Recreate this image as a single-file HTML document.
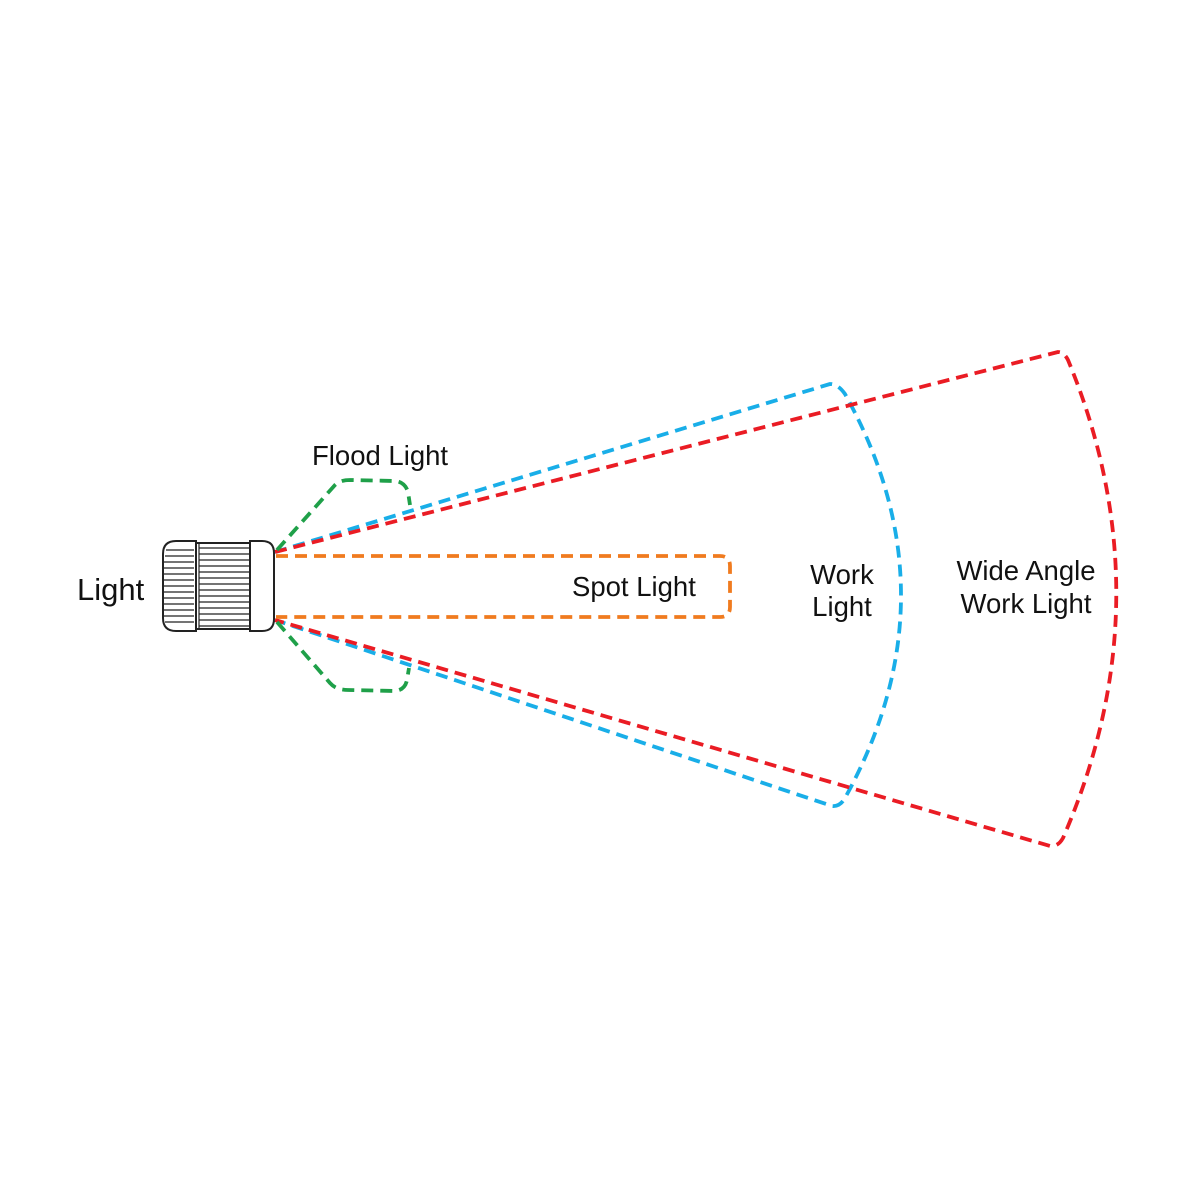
<!DOCTYPE html>
<html><head><style>body{margin:0;background:#fff}svg{display:block}text{font-family:"Liberation Sans",sans-serif;fill:#111}</style></head>
<body>
<svg width="1200" height="1200" viewBox="0 0 1200 1200">
<g fill="none" stroke-width="3.8" stroke-dasharray="12 7" stroke-linejoin="round">
<path d="M275 552 L830 384 Q838 384 845 394 Q957 595 845 798 Q840 807 832 806 L275 620" stroke="#19aee8"/>
<path d="M275 552 L1058 352 Q1064 352 1068 360 Q1167 599 1063 838 Q1058 847 1050 846 L275 620" stroke="#ea1c24"/>
<path d="M276 556 L720 556 Q730 556 730 566 L730 607 Q730 617 720 617 L276 617" stroke="#f07b1f"/>
<path d="M277 550 L335 485 Q340 480 350 480 L395 481 Q405 482 408 492 L410 505" stroke="#1fa049"/>
<path d="M277 622 L330 683 Q336 690 348 690 L395 691 Q405 690 407 680 L409 668" stroke="#1fa049"/>
</g>
<g stroke="#222" stroke-width="2" fill="#fff">
<path d="M176 541 L196 541 L196 631 L176 631 Q163 631 163 618 L163 554 Q163 541 176 541 Z"/>
<rect x="196" y="543" width="54" height="86"/>
<path d="M250 541 L262 541 Q274 541 274 553 L274 619 Q274 631 262 631 L250 631 Z"/>
</g>
<g stroke="#222" stroke-width="1.2">
<line x1="166" y1="550" x2="194" y2="550"/><line x1="165" y1="556" x2="194" y2="556"/><line x1="164" y1="562" x2="194" y2="562"/><line x1="164" y1="568" x2="194" y2="568"/><line x1="164" y1="574" x2="194" y2="574"/><line x1="164" y1="580" x2="194" y2="580"/><line x1="164" y1="586" x2="194" y2="586"/><line x1="164" y1="592" x2="194" y2="592"/><line x1="164" y1="598" x2="194" y2="598"/><line x1="164" y1="604" x2="194" y2="604"/><line x1="164" y1="610" x2="194" y2="610"/><line x1="164" y1="616" x2="194" y2="616"/><line x1="165" y1="622" x2="194" y2="622"/>
<line x1="199" y1="548" x2="250" y2="548"/><line x1="199" y1="554" x2="250" y2="554"/><line x1="199" y1="560" x2="250" y2="560"/><line x1="199" y1="566" x2="250" y2="566"/><line x1="199" y1="572" x2="250" y2="572"/><line x1="199" y1="578" x2="250" y2="578"/><line x1="199" y1="584" x2="250" y2="584"/><line x1="199" y1="590" x2="250" y2="590"/><line x1="199" y1="596" x2="250" y2="596"/><line x1="199" y1="602" x2="250" y2="602"/><line x1="199" y1="608" x2="250" y2="608"/><line x1="199" y1="614" x2="250" y2="614"/><line x1="199" y1="620" x2="250" y2="620"/><line x1="199" y1="626" x2="250" y2="626"/>
<line x1="199" y1="543" x2="199" y2="629"/>
</g>
<text x="77" y="600" font-size="31">Light</text>
<text x="312" y="465" font-size="27.5">Flood Light</text>
<text x="572" y="596" font-size="27.5">Spot Light</text>
<text x="842" y="584" font-size="27.5" text-anchor="middle">Work</text>
<text x="842" y="616" font-size="27.5" text-anchor="middle">Light</text>
<text x="1026" y="580" font-size="27.5" text-anchor="middle">Wide Angle</text>
<text x="1026" y="613" font-size="27.5" text-anchor="middle">Work Light</text>
</svg>
</body></html>
